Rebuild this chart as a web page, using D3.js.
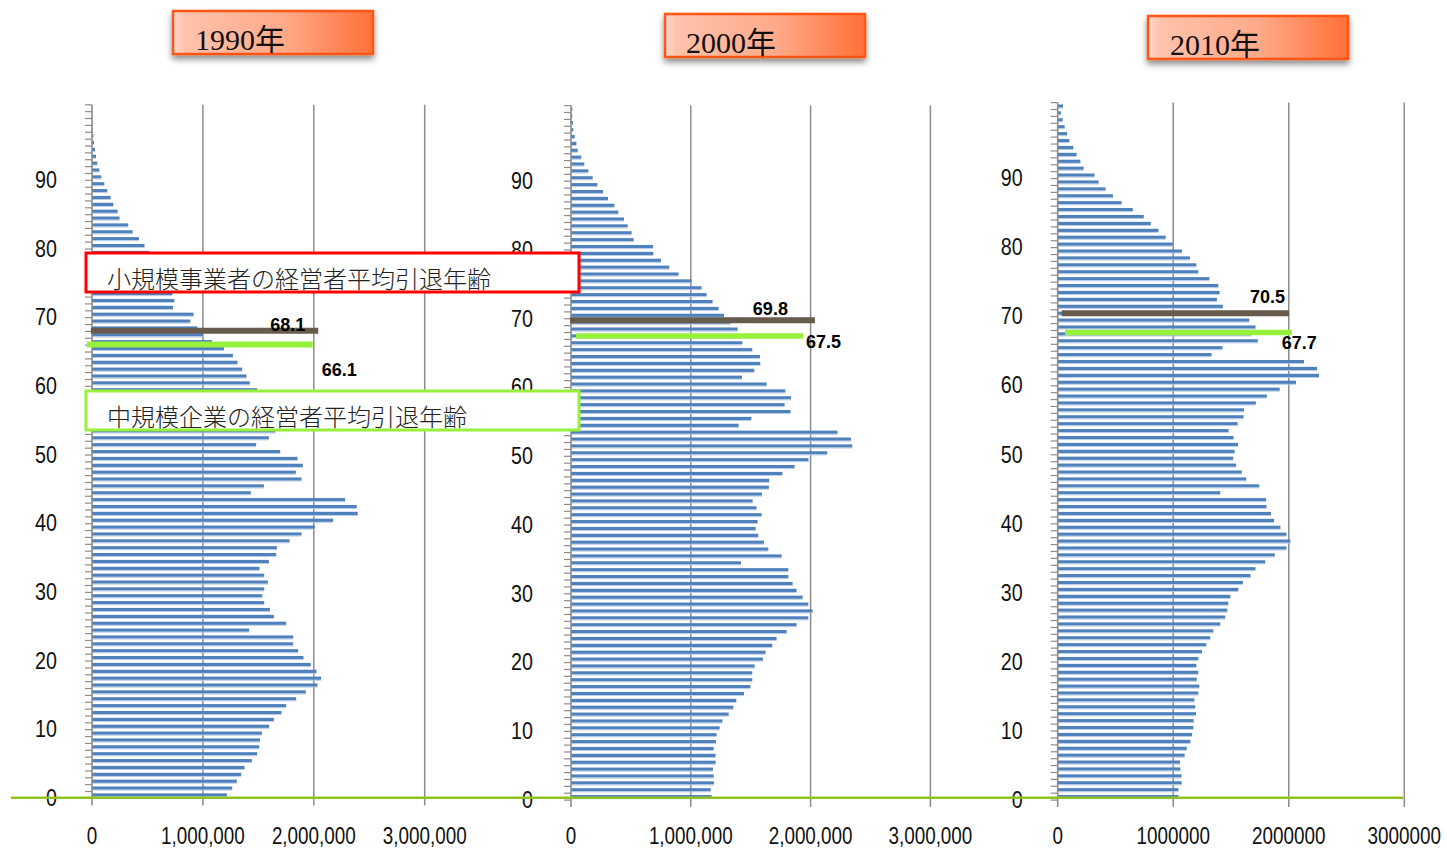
<!DOCTYPE html>
<html lang="ja">
<head>
<meta charset="utf-8">
<title>年齢別人口と経営者平均引退年齢</title>
<script src="https://cdn.jsdelivr.net/npm/d3@7"></script>
<style>
  html, body { margin: 0; padding: 0; background: #fff; }
  svg { display: block; }
</style>
</head>
<body>
<svg id="chart" width="1447" height="850"></svg>
<script>
// 年齢（0〜100歳以上）
const ages = d3.range(0, 101);

// 年齢別人口（千人）
const pop1990 = [
  1216, 1264, 1306, 1345, 1375, 1441, 1489, 1508, 1514, 1532,
  1598, 1640, 1709, 1751, 1841, 1928, 2033, 2066, 2024, 1973,
  1907, 1859, 1814, 1814, 1417, 1751, 1640, 1604, 1553, 1535,
  1553, 1586, 1553, 1510, 1595, 1661, 1667, 1781, 1889, 2009,
  2174, 2396, 2387, 2282, 1432, 1550, 1889, 1838, 1901, 1853,
  1697, 1480, 1595, 1652, 1630, 1580, 1520, 1510, 1480, 1489,
  1423, 1393, 1354, 1312, 1270, 1190, 1081, 1000, 950, 886,
  916, 730, 742, 724, 700, 660, 620, 580, 550, 517,
  474, 423, 366, 327, 249, 231, 192, 168, 138, 111,
  84, 66, 48, 36, 27, 18, 12, 7, 5, 3,
  3
];
const pop2000 = [
  1174, 1166, 1193, 1191, 1185, 1207, 1207, 1191, 1210, 1216,
  1241, 1263, 1316, 1355, 1380, 1444, 1497, 1513, 1513, 1533,
  1602, 1624, 1680, 1716, 1800, 1883, 1981, 2017, 1981, 1933,
  1883, 1850, 1814, 1814, 1419, 1758, 1647, 1611, 1563, 1541,
  1558, 1591, 1549, 1516, 1594, 1652, 1655, 1764, 1866, 1983,
  2139, 2348, 2337, 2225, 1399, 1505, 1833, 1783, 1836, 1789,
  1633, 1427, 1530, 1580, 1577, 1513, 1430, 1430, 1391, 1330,
  1277, 1232, 1182, 1132, 1090, 1007, 898, 821, 751, 687,
  684, 523, 506, 473, 442, 395, 362, 309, 267, 220,
  181, 145, 111, 86, 56, 45, 31, 19, 17, 11,
  11
];
const pop2010 = [
  1045, 1045, 1073, 1071, 1062, 1059, 1099, 1117, 1148, 1163,
  1174, 1177, 1197, 1191, 1183, 1217, 1226, 1203, 1217, 1200,
  1217, 1249, 1286, 1321, 1347, 1407, 1450, 1468, 1476, 1494,
  1563, 1603, 1669, 1712, 1796, 1879, 1980, 2014, 1980, 1928,
  1873, 1847, 1807, 1804, 1407, 1744, 1632, 1594, 1545, 1519,
  1531, 1560, 1522, 1479, 1557, 1609, 1612, 1715, 1810, 1922,
  2063, 2262, 2245, 2132, 1332, 1427, 1732, 1675, 1712, 1658,
  1502, 1430, 1378, 1401, 1390, 1312, 1217, 1200, 1145, 1076,
  996, 935, 872, 806, 745, 650, 553, 478, 414, 354,
  319, 224, 196, 164, 135, 101, 81, 60, 43, 29,
  46
];

// 年次ラベル
const years = ["1990年", "2000年", "2010年"];

// 横軸目盛（人）
const xTicks = [0, 1000000, 2000000, 3000000];
// 縦軸ラベルを表示する年齢
const ageTicks = d3.range(0, 100, 10);

// 経営者平均引退年齢
const retireSmall = [68.1, 69.8, 70.5];   // 小規模事業者
const retireMedium = [66.1, 67.5, 67.7];  // 中規模企業
const noteTexts = ["小規模事業者の経営者平均引退年齢", "中規模企業の経営者平均引退年齢"];

// ---- 配置・スタイル ----
const series = [pop1990, pop2000, pop2010];
const layout = [
  { xr: [92, 424.7], yr: [798.4, 104.8], fmt: d3.format(","), labelGap: 35,
    box: { x: 173, y: 11, tx: 195, ty: 50 },
    small: { x0: -10000, x1: 2040000, w: 6, anchor: "end", dx: -13, dy: -5.8 },
    medium: { x0: -45000, x1: 1990000, w: 6, anchor: "start", dx: 9, dy: 25.5 } },
  { xr: [571, 930.4], yr: [800.1, 105.6], fmt: d3.format(","), labelGap: 38,
    box: { x: 665, y: 14, tx: 686, ty: 53 },
    small: { x0: -8000, x1: 2036000, w: 6, anchor: "end", dx: -27, dy: -10.7 },
    medium: { x0: 42000, x1: 1937000, w: 5.5, anchor: "start", dx: 3, dy: 6 } },
  { xr: [1057.7, 1404.3], yr: [800.1, 102.6], fmt: d => String(d), labelGap: 35,
    box: { x: 1148, y: 16, tx: 1170, ty: 55 },
    small: { x0: 35000, x1: 2003000, w: 6, anchor: "end", dx: -4, dy: -16 },
    medium: { x0: 63000, x1: 2026000, w: 5.5, anchor: "start", dx: -10, dy: 10.4 } }
];

const BAR = "#4f81bd", BAR_HI = "#b4c9e5";
const GRID = "#8c8c8c";
const BROWN = "#665b4c", LIME = "#97f13b", OLIVE = "#8fc31f";
const NUM_FONT = "'Liberation Sans', Arial, sans-serif";
const NARROW = 0.82; // 軸ラベルの横幅を詰める比率

const svg = d3.select("#chart");
const defs = svg.append("defs");

const grad = defs.append("linearGradient").attr("id", "titleFill")
  .attr("x1", "0%").attr("x2", "100%").attr("y1", "0%").attr("y2", "0%");
[["0%", "#ffd8ca"], ["6%", "#ffc2ab"], ["55%", "#ffaa8a"], ["100%", "#ff7038"]]
  .forEach(([o, c]) => grad.append("stop").attr("offset", o).attr("stop-color", c));

const shadow = defs.append("filter").attr("id", "titleShadow")
  .attr("x", "-10%").attr("y", "-20%").attr("width", "120%").attr("height", "170%");
shadow.append("feDropShadow").attr("dx", 0).attr("dy", 4).attr("stdDeviation", 3)
  .attr("flood-color", "#000").attr("flood-opacity", 0.45);

series.forEach((data, i) => {
  const L = layout[i];
  const g = svg.append("g");
  const x = d3.scaleLinear().domain([0, 3000000]).range(L.xr);
  const y = d3.scaleBand().domain(ages).range(L.yr).paddingInner(0).paddingOuter(0);
  const ageY = d3.scaleLinear().domain([0, ages.length]).range(L.yr);
  const bw = y.bandwidth();
  const barH = 3.2;
  const yBottom = L.yr[0], yTop = L.yr[1];

  // 縦方向の目盛線
  g.append("g").selectAll("line").data(xTicks.slice(1)).join("line")
    .attr("x1", d => x(d)).attr("x2", d => x(d))
    .attr("y1", yTop).attr("y2", yBottom + 7)
    .attr("stroke", GRID).attr("stroke-width", 1.5);

  // 人口の横棒
  const rows = ages.map(a => ({ age: a, v: data[a] * 1000 }));
  g.append("g").selectAll("rect").data(rows).join("rect")
    .attr("x", x(0)).attr("width", d => x(d.v) - x(0))
    .attr("y", d => y(d.age) + bw / 2 - barH / 2).attr("height", barH)
    .attr("fill", BAR);
  g.append("g").selectAll("rect").data(rows).join("rect")
    .attr("x", x(0)).attr("width", d => x(d.v) - x(0))
    .attr("y", d => y(d.age) + bw / 2 + barH / 2).attr("height", 0.9)
    .attr("fill", BAR_HI);

  // 縦軸と区切り目盛
  g.append("line").attr("x1", x(0)).attr("x2", x(0))
    .attr("y1", yTop).attr("y2", yBottom + 7)
    .attr("stroke", GRID).attr("stroke-width", 1.6);
  g.append("g").selectAll("line").data(d3.range(0, ages.length + 1)).join("line")
    .attr("x1", x(0) - 7).attr("x2", x(0))
    .attr("y1", k => ageY(k)).attr("y2", k => ageY(k))
    .attr("stroke", GRID).attr("stroke-width", 1.2);

  // 縦軸ラベル
  g.append("g").selectAll("text").data(ageTicks).join("text")
    .attr("transform", a => `translate(${x(0) - L.labelGap},${y(a) + bw / 2 + 3}) scale(${NARROW},1)`)
    .attr("text-anchor", "end").attr("dominant-baseline", "central")
    .attr("font-family", NUM_FONT).attr("font-size", 24).attr("fill", "#111")
    .text(a => a);

  // 横軸ラベル
  g.append("g").selectAll("text").data(xTicks).join("text")
    .attr("transform", d => `translate(${x(d)},844) scale(${NARROW},1)`)
    .attr("text-anchor", "middle")
    .attr("font-family", NUM_FONT).attr("font-size", 23).attr("fill", "#111")
    .text(d => L.fmt(d));

  // 平均引退年齢の線と数値
  [[retireSmall[i], L.small, BROWN], [retireMedium[i], L.medium, LIME]].forEach(([v, s, c]) => {
    const ly = ageY(v);
    g.append("line").attr("x1", x(s.x0)).attr("x2", x(s.x1))
      .attr("y1", ly).attr("y2", ly)
      .attr("stroke", c).attr("stroke-width", s.w);
    g.append("text").attr("x", x(s.x1) + s.dx).attr("y", ly + s.dy)
      .attr("text-anchor", s.anchor).attr("dominant-baseline", "central")
      .attr("font-family", "'Liberation Sans', Arial, sans-serif")
      .attr("font-weight", "bold").attr("font-size", 18).attr("fill", "#000")
      .text(v.toFixed(1));
  });

  // 年次の見出し
  const tb = svg.append("g");
  tb.append("rect").attr("x", L.box.x).attr("y", L.box.y)
    .attr("width", 200).attr("height", 43)
    .attr("fill", "url(#titleFill)").attr("stroke", "#ff5512").attr("stroke-width", 2.5)
    .attr("filter", "url(#titleShadow)");
  tb.append("text").attr("x", L.box.tx).attr("y", L.box.ty)
    .attr("font-family", "'Liberation Serif', 'DejaVu Serif', 'Noto Sans CJK JP', serif")
    .attr("font-size", 30).attr("fill", "#111")
    .text(years[i]);
});

// 注記ボックス
const notes = [
  { text: noteTexts[0], color: "#ff0000", y: 253 },
  { text: noteTexts[1], color: LIME, y: 391 }
];
const ng = svg.append("g");
notes.forEach(n => {
  ng.append("rect").attr("x", 86).attr("y", n.y).attr("width", 493).attr("height", 39)
    .attr("fill", "#fff").attr("stroke", n.color).attr("stroke-width", 3);
  ng.append("text").attr("x", 107).attr("y", n.y + 35)
    .attr("font-family", "'Noto Sans CJK JP', sans-serif").attr("font-weight", 300)
    .attr("font-size", 24).attr("fill", "#222")
    .text(n.text);
});

// 基準線
svg.append("line").attr("x1", 11).attr("x2", 1403).attr("y1", 797.7).attr("y2", 797.7)
  .attr("stroke", OLIVE).attr("stroke-width", 2.5);
</script>
</body>
</html>
